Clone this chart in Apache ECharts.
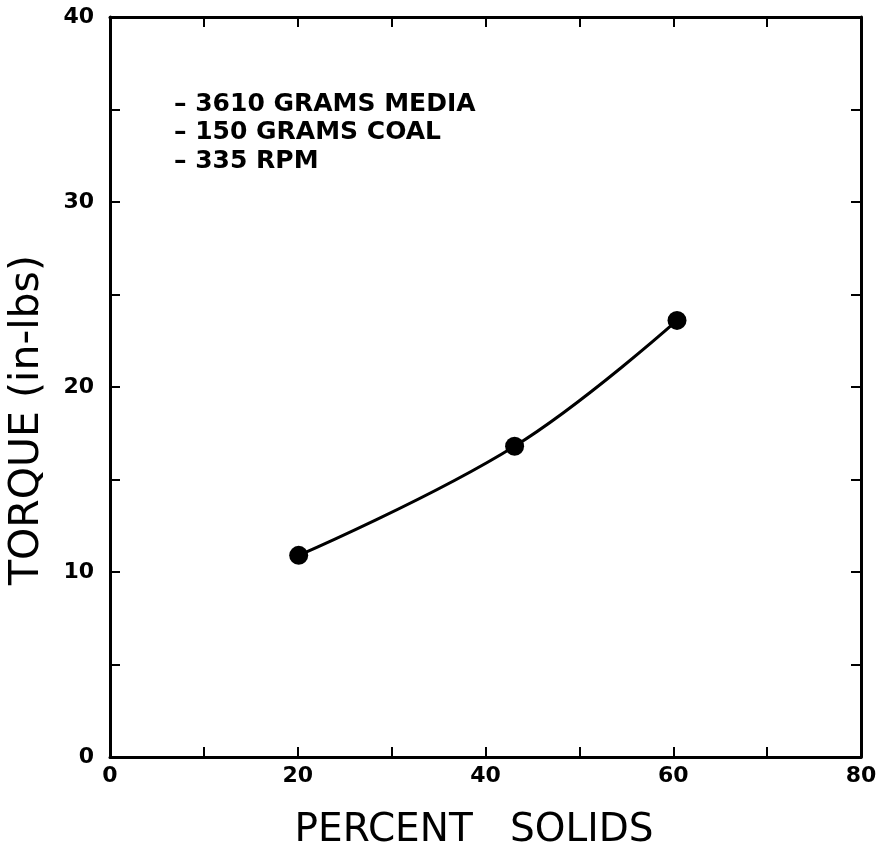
<!DOCTYPE html>
<html><head><meta charset="utf-8">
<script src="https://cdn.jsdelivr.net/npm/echarts@6/dist/echarts.min.js"></script>
<style>html,body{margin:0;padding:0;background:#fff}#c{width:886px;height:856px}</style>
</head><body><div id="c"></div>
<script>
const percentSolids = [20.1, 43.1, 60.4];
const torque = [10.9, 16.8, 23.6];
const xTicks = [0, 20, 40, 60, 80];
const yTicks = [0, 10, 20, 30, 40];
const notes = ['– 3610 GRAMS MEDIA', '– 150 GRAMS COAL', '– 335 RPM'];
const xName = 'PERCENT   SOLIDS';
const yName = 'TORQUE (in-lbs)';

const chart = echarts.init(document.getElementById('c'));
const lab = {color:'#000', fontFamily:'DejaVu Sans, sans-serif', fontWeight:'bold', fontSize:22};
const axisCommon = {
  axisLine:{show:true, onZero:false, lineStyle:{color:'#000', width:3}},
  axisTick:{show:true, inside:true, length:10, lineStyle:{color:'#000', width:2}},
  minorTick:{show:false},
  splitLine:{show:false}
};
chart.setOption({
  animation:false,
  backgroundColor:'#fff',
  grid:{left:110, right:25, top:17, bottom:99, containLabel:false},
  xAxis:[
    Object.assign({type:'value', min:0, max:80, interval:10, position:'bottom',
      axisLabel:Object.assign({margin:8, formatter:v=> xTicks.includes(v)? String(v):''}, lab)
    }, axisCommon),
    Object.assign({type:'value', min:0, max:80, interval:10, position:'top', axisLabel:{show:false}}, axisCommon)
  ],
  yAxis:[
    Object.assign({type:'value', min:0, max:40, interval:5, position:'left',
      axisLabel:Object.assign({margin:16, formatter:v=> yTicks.includes(v)? String(v):''}, lab)
    }, axisCommon),
    Object.assign({type:'value', min:0, max:40, interval:5, position:'right', axisLabel:{show:false}}, axisCommon)
  ],
  graphic: notes.map((t,i)=>({type:'text', x:174, y:104+i*28.5,
    style:{text:t, fill:'#000', font:'bold 25px "DejaVu Sans", sans-serif', verticalAlign:'middle', align:'left'}}))
  .concat([
    {type:'text', x:474, y:831, style:{text:xName, fill:'#000', font:'39px "DejaVu Sans", sans-serif', align:'center', verticalAlign:'middle'}},
    {type:'text', x:27, y:420, rotation:Math.PI/2, style:{text:yName, fill:'#000', font:'41px "DejaVu Sans", sans-serif', align:'center', verticalAlign:'middle'}}
  ]),
  series:[{
    type:'line', xAxisIndex:0, yAxisIndex:0,
    data: percentSolids.map((x,i)=>[x, torque[i]]),
    smooth:0.4,
    symbol:'circle', symbolSize:19,
    itemStyle:{color:'#000'},
    lineStyle:{color:'#000', width:3}
  }]
});
</script></body></html>
